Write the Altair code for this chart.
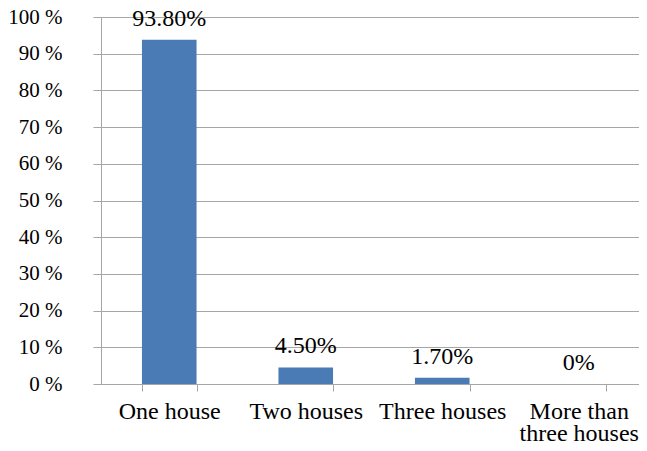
import altair as alt
import pandas as pd

categories = ["One house", "Two houses", "Three houses", "More than\nthree houses"]
values = [93.8, 4.5, 1.7, 0.0]
value_labels = ["93.80%", "4.50%", "1.70%", "0%"]
y_ticks = [0, 10, 20, 30, 40, 50, 60, 70, 80, 90, 100]

df = pd.DataFrame({"cat": categories, "v": values, "lab": value_labels})

FONT = "Liberation Serif"
GRID = "#a6a6a6"

x = alt.X(
    "cat:N",
    sort=categories,
    scale=alt.Scale(paddingInner=0.6, paddingOuter=0.3, range=[0, 546]),
    axis=alt.Axis(
        title=None,
        labelAngle=0,
        labelFont=FONT,
        labelFontSize=24,
        labelColor="#000000",
        labelExpr="split(datum.label, '\\n')",
        labelLineHeight=22,
        labelPadding=8,
        labelBaseline="top",
        labelOverlap=False,
        labelBound=False,
        labelFlush=False,
        tickBand="extent",
        tickSize=7,
        tickColor=GRID,
        domainColor=GRID,
        grid=False,
    ),
)

y = alt.Y(
    "v:Q",
    scale=alt.Scale(domain=[0, 100], nice=False),
    axis=alt.Axis(
        title=None,
        values=y_ticks,
        tickCount=20,
        labelExpr="datum.value + ' %'",
        labelFont=FONT,
        labelFontSize=21,
        labelColor="#000000",
        labelPadding=31,
        labelOverlap=False,
        labelFlush=False,
        tickSize=8,
        tickColor=GRID,
        domainColor=GRID,
        gridColor=GRID,
        grid=True,
    ),
)

bars = alt.Chart(df).mark_bar(color="#4a7bb5").encode(x=x, y=y)
text = alt.Chart(df).mark_text(
    font=FONT, fontSize=24, baseline="alphabetic", dy=-14, color="#000000"
).encode(x=x, y=y, text="lab:N")

chart = (
    alt.layer(bars, text)
    .properties(
        width=538,
        height=367,
        autosize=alt.AutoSizeParams(type="none"),
        padding={"left": 93, "top": 9, "right": 0, "bottom": 57},
        background="#ffffff",
    )
    .configure_view(stroke=None)
)

chart.save("out.html", embed_options={"renderer": "svg", "actions": False})
